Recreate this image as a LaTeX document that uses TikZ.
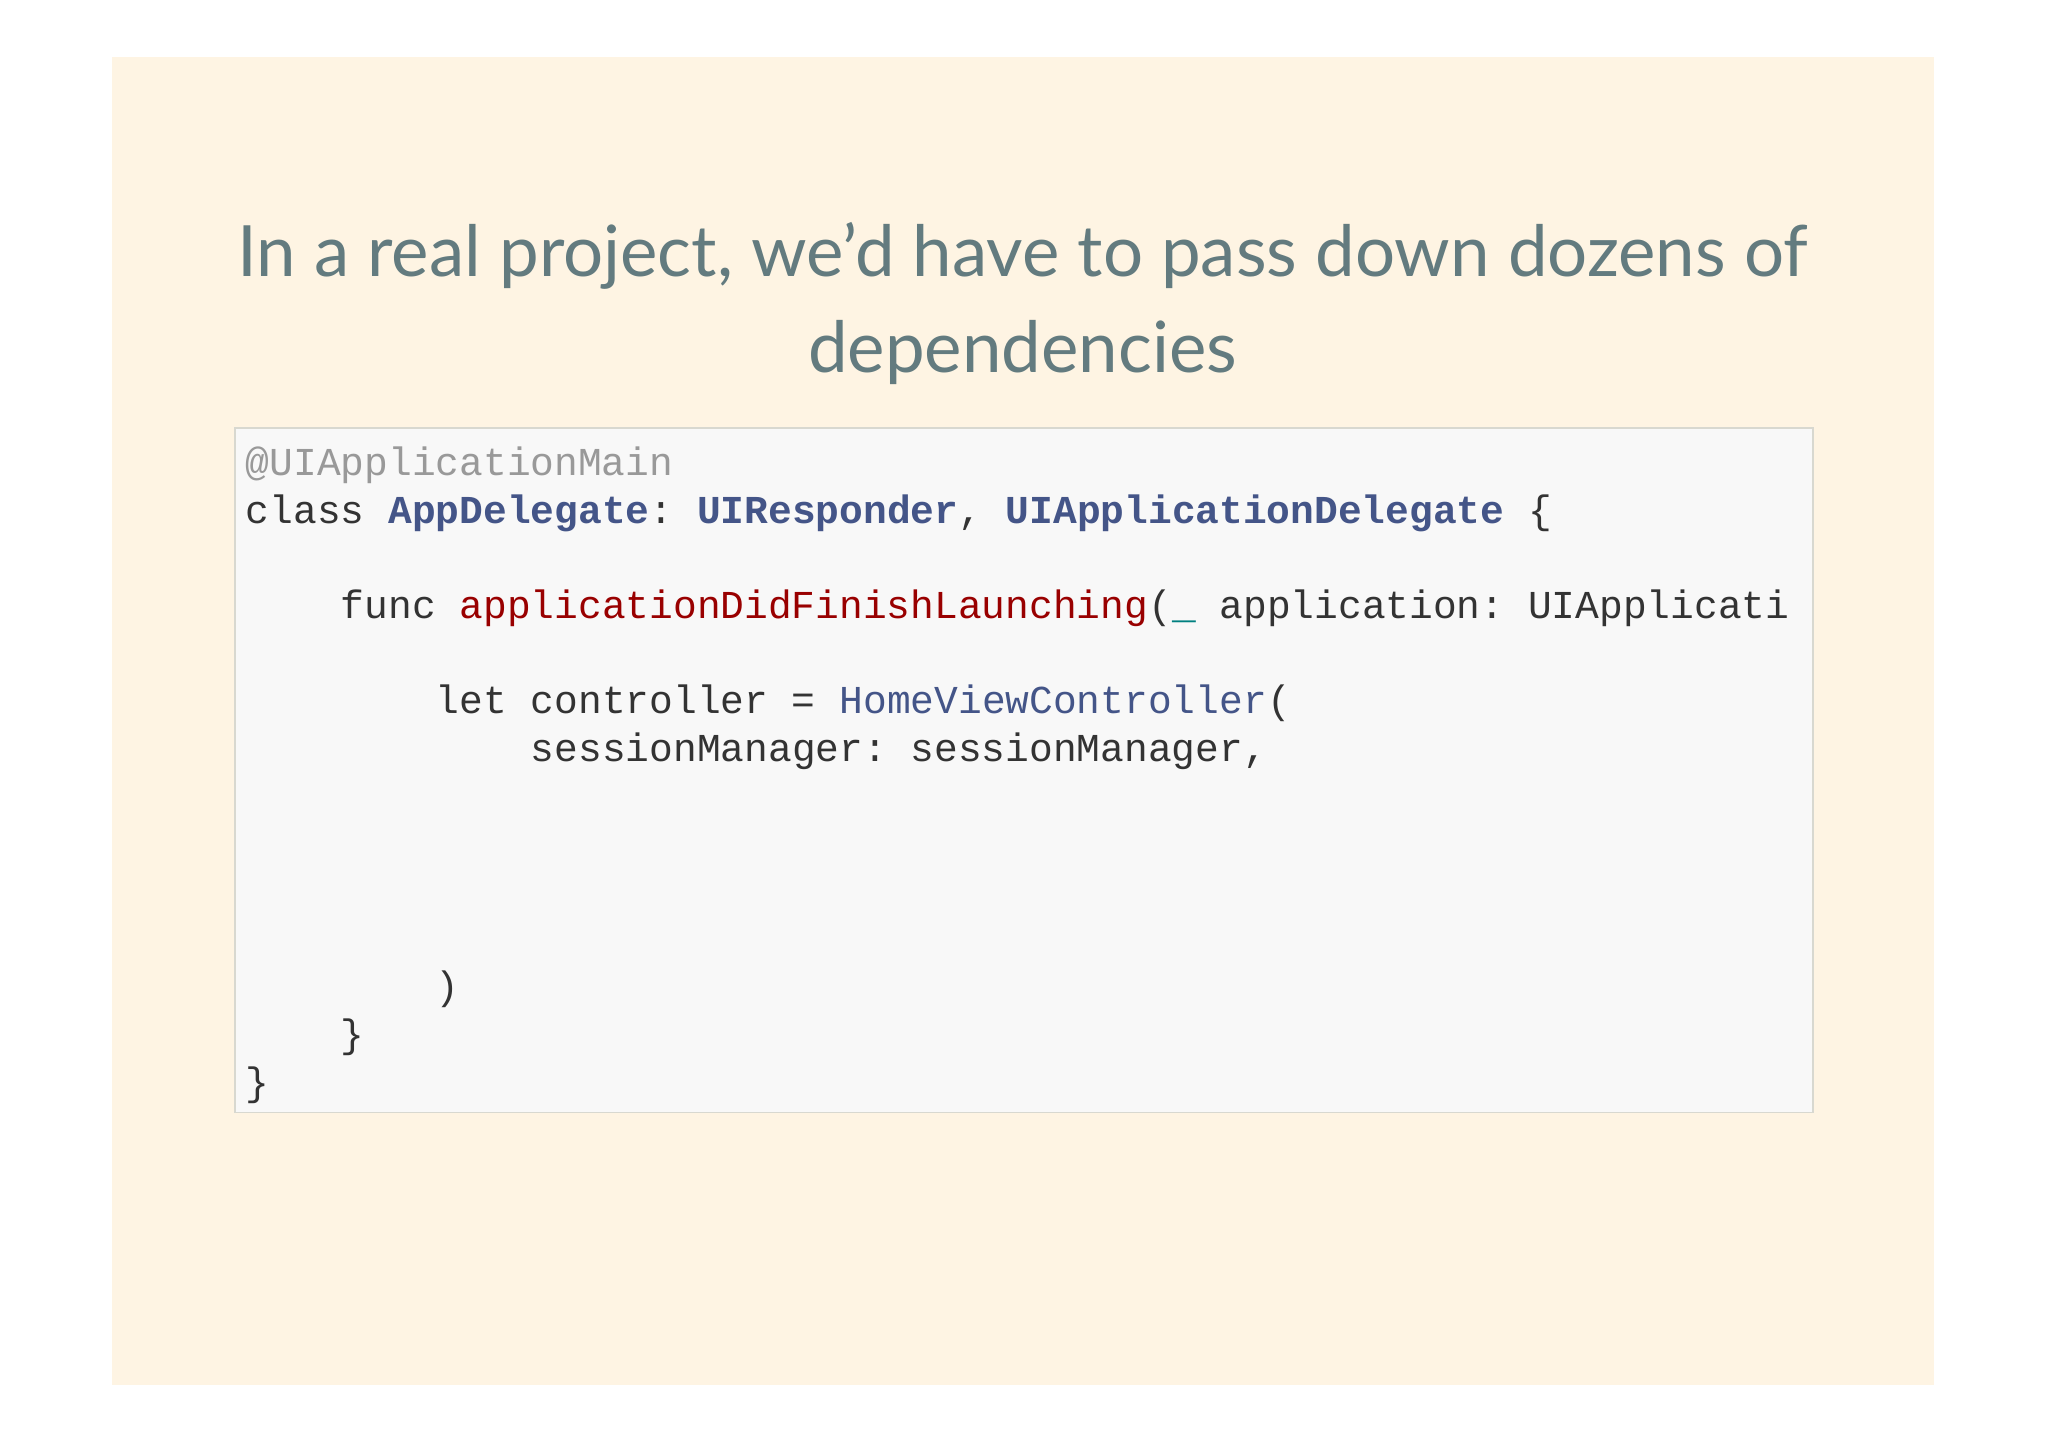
\documentclass[tikz,border=0pt]{standalone}
\usepackage{fontspec}
\setmainfont{Lato}
\setmonofont{Liberation Mono}
\definecolor{slidebg}{HTML}{FEF4E3}
\definecolor{titlec}{HTML}{637B7F}
\definecolor{codebg}{HTML}{F8F8F8}
\definecolor{codeborder}{HTML}{D8D8D0}
\definecolor{cgray}{HTML}{999999}
\definecolor{cdark}{HTML}{333333}
\definecolor{cblue}{HTML}{445588}
\definecolor{cred}{HTML}{990000}
\definecolor{cteal}{HTML}{008080}
\tikzset{
  codeline/.style={anchor=base west, inner sep=0pt, font=\fontsize{30.3}{36}\selectfont\ttfamily, text=cdark},
  titleline/.style={anchor=base, inner sep=0pt, font=\fontsize{54.2}{66}\selectfont, text=titlec}
}
\begin{document}
\begin{tikzpicture}[x=1pt,y=-1pt]
\useasboundingbox (0,0) rectangle (1568,1108);
\fill[white] (0,0) rectangle (1568,1108);
\fill[slidebg] (86,44) rectangle (1481,1060);
\node[titleline] (t1) at (783,212) {In a real project, we\symbol{39}d have to pass down dozens of};
\node[titleline] (t2) at (783,285) {dependencies};
\node[draw=codeborder, fill=codebg, line width=1.5pt, minimum width=1208pt, minimum height=524pt, anchor=north west, inner sep=0pt] (box) at (179,327) {};
\node[codeline, text=cgray] (l1) at (188,364) {@UIApplicationMain};
\node[codeline] (l2) at (188,400.5) {class \textbf{\color{cblue}AppDelegate}: \textbf{\color{cblue}UIResponder}, \textbf{\color{cblue}UIApplicationDelegate} \{};
\node[codeline] (l4) at (188,473.5) {\ \ \ \ func {\color{cred}applicationDidFinishLaunching}(\textcolor{cteal}{\_} application: UIApplicati};
\node[codeline] (l6) at (188,546.5) {\ \ \ \ \ \ \ \ let controller = {\color{cblue}HomeViewController}(};
\node[codeline] (l7) at (188,583) {\ \ \ \ \ \ \ \ \ \ \ \ sessionManager: sessionManager,};
\node[codeline] (l12) at (188,765.5) {\ \ \ \ \ \ \ \ )};
\node[codeline] (l13) at (188,802) {\ \ \ \ \}};
\node[codeline] (l14) at (188,838.5) {\}};
\end{tikzpicture}
\end{document}
